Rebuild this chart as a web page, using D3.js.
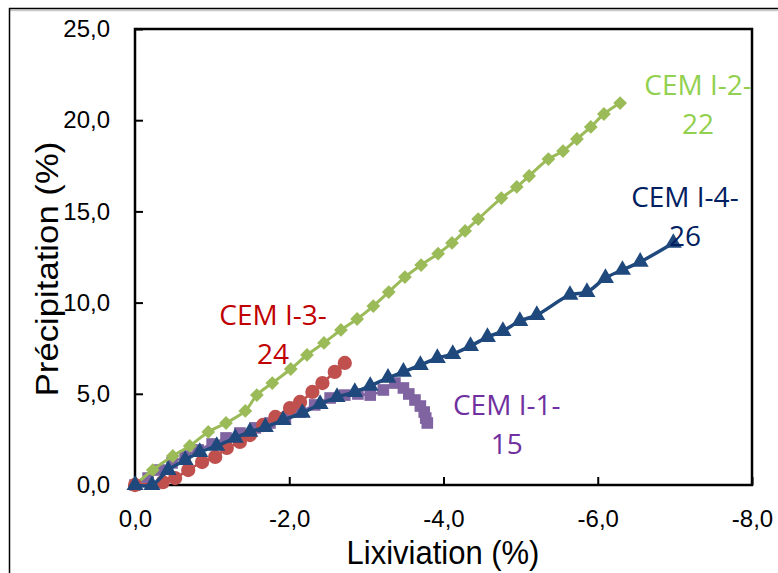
<!DOCTYPE html>
<html><head><meta charset="utf-8">
<script src="https://cdn.jsdelivr.net/npm/d3@7"></script>
<style>body{margin:0;background:#fff}svg{display:block}</style>
</head><body>
<svg id="c" width="778" height="573"></svg>
<script>
// ---- data ----
const xTicks = [0, -2, -4, -6, -8];
const yTicks = [0, 5, 10, 15, 20, 25];

const cem1x = [0,-0.17,-0.32,-0.48,-0.65,-0.82,-1.00,-1.18,-1.36,-1.56,-1.75,-1.95,-2.14,-2.33,-2.53,-2.72,-2.89,-3.05,-3.22,-3.37,-3.48,-3.55,-3.63,-3.70,-3.75,-3.77,-3.79];
const cem1y = [0,0.38,0.82,1.21,1.59,1.92,2.25,2.58,2.85,3.13,3.40,3.67,4.00,4.39,4.77,4.93,4.99,4.93,5.21,5.59,5.32,4.99,4.66,4.33,4.00,3.67,3.40];

const cem2x = [0,-0.23,-0.49,-0.71,-0.95,-1.18,-1.43,-1.58,-1.78,-2.02,-2.23,-2.45,-2.67,-2.88,-3.09,-3.29,-3.50,-3.71,-3.93,-4.11,-4.28,-4.45,-4.75,-4.95,-5.11,-5.36,-5.55,-5.73,-5.91,-6.08,-6.29];
const cem2y = [0,0.82,1.59,2.14,2.91,3.40,4.06,4.93,5.59,6.36,7.13,7.79,8.50,9.10,9.81,10.58,11.40,12.06,12.68,13.27,13.93,14.58,15.73,16.34,16.94,17.87,18.31,18.97,19.63,20.34,20.94];

const cem3x = [0,-0.36,-0.52,-0.69,-0.87,-1.04,-1.19,-1.36,-1.49,-1.66,-1.82,-2.01,-2.14,-2.30,-2.43,-2.59,-2.72];
const cem3y = [0,0.16,0.38,0.82,1.26,1.54,2.03,2.36,2.74,3.29,3.73,4.22,4.55,5.10,5.59,6.20,6.69];

const cem4x = [0,-0.22,-0.43,-0.65,-0.84,-1.06,-1.30,-1.49,-1.69,-1.92,-2.17,-2.40,-2.62,-2.85,-3.05,-3.28,-3.48,-3.70,-3.92,-4.12,-4.35,-4.57,-4.77,-4.99,-5.21,-5.64,-5.86,-6.10,-6.32,-6.55,-6.98];
const cem4y = [0,0.0,0.82,1.37,1.81,2.14,2.58,2.91,3.18,3.56,3.95,4.44,4.82,5.10,5.43,5.87,6.20,6.58,6.96,7.18,7.62,8.11,8.44,8.99,9.32,10.42,10.58,11.35,11.79,12.23,13.27];

const seriesNames = ["CEM I-1-15", "CEM I-2-22", "CEM I-3-24", "CEM I-4-26"];
const labelLines = [["CEM I-1-","15"],["CEM I-2-","22"],["CEM I-3-","24"],["CEM I-4-","26"]];
const labelAt = [[-4.82, 3.84],[-7.30, 21.4],[-1.79, 8.77],[-7.13, 15.24]];

// ---- layout ----
const svg = d3.select("#c");
const L = 135, R = 752, T = 29, B = 485;
const x = d3.scaleLinear().domain([0, -8]).range([L, R]);
const y = d3.scaleLinear().domain([0, 25]).range([B, T]);

// outer frame (document border)
svg.append("line").attr("x1",9).attr("x2",778).attr("y1",10.5).attr("y2",10.5).attr("stroke","#c8c8c8").attr("stroke-width",1.5);
svg.append("line").attr("x1",9).attr("x2",778).attr("y1",8.5).attr("y2",8.5).attr("stroke","#000").attr("stroke-width",1.5);
svg.append("line").attr("x1",9.5).attr("x2",9.5).attr("y1",8).attr("y2",573).attr("stroke","#000").attr("stroke-width",1.5);

// plot box
svg.append("rect").attr("x",L).attr("y",T).attr("width",R-L).attr("height",B-T)
  .attr("fill","none").attr("stroke","#000").attr("stroke-width",2.5);

const tickFont = "'Liberation Sans', Arial, sans-serif";
const xAxis = d3.axisBottom(x).tickValues(xTicks).tickSizeInner(-8).tickSizeOuter(0).tickPadding(25)
  .tickFormat(d => d3.format(".1f")(d).replace(".", ",").replace("−","-"));
const gx = svg.append("g").attr("transform",`translate(0,${B})`).call(xAxis);
gx.select(".domain").remove();
gx.selectAll("line").attr("stroke","#000").attr("stroke-width",2);
gx.selectAll("text").attr("font-family",tickFont).attr("font-size",24).attr("fill","#000");

const yAxis = d3.axisLeft(y).tickValues(yTicks).tickSizeInner(-8).tickSizeOuter(0).tickPadding(25)
  .tickFormat(d => d3.format(".1f")(d).replace(".", ","));
const gy = svg.append("g").attr("transform",`translate(${L},0)`).call(yAxis);
gy.select(".domain").remove();
gy.selectAll("line").attr("stroke","#000").attr("stroke-width",2);
gy.selectAll("text").attr("font-family",tickFont).attr("font-size",24).attr("fill","#000");

// axis titles
svg.append("text").attr("transform","translate(443,564) scale(1,1.08)").attr("text-anchor","middle")
  .attr("font-family",tickFont).attr("font-size",31).text("Lixiviation (%)");
svg.append("text").attr("transform","translate(58,269) rotate(-90) scale(1.12,1)").attr("text-anchor","middle")
  .attr("font-family",tickFont).attr("font-size",31).text("Précipitation (%)");

// series
const mk = (xs, ys) => xs.map((v,i)=>({x:v,y:ys[i]}));
const data = [mk(cem1x,cem1y), mk(cem2x,cem2y), mk(cem3x,cem3y), mk(cem4x,cem4y)];
const colors = ["#8064A2","#9BBB59","#C0504D","#1F497D"];
const labelColors = ["#7030A0","#92D050","#C00000","#002060"];
const lineW = [2.5, 3, 2.5, 3.5];
const line = d3.line().x(d=>x(d.x)).y(d=>y(d.y)).curve(d3.curveCatmullRom.alpha(0.5));

const symbols = [
  d3.symbol().type(d3.symbolSquare).size(135),
  d3.symbol().type(d3.symbolSquare).size(95),
  d3.symbol().type(d3.symbolCircle).size(160),
  d3.symbol().type(d3.symbolTriangle).size(125)
];
const rot = [0, 45, 0, 0];

data.forEach((s, i) => {
  const g = svg.append("g");
  g.append("path").datum(s).attr("d", line).attr("fill","none")
    .attr("stroke", colors[i]).attr("stroke-width", lineW[i]).attr("stroke-linejoin","round");
  g.selectAll("path.m").data(s).join("path").attr("class","m")
    .attr("d", symbols[i])
    .attr("transform", d => `translate(${x(d.x)},${y(d.y)}) rotate(${rot[i]})`)
    .attr("fill", colors[i]);
});

// data labels
const labFont = "'Open Sans', 'Noto Sans', sans-serif";
labelLines.forEach((lines, i) => {
  const t = svg.append("text").attr("text-anchor","middle")
    .attr("font-family",labFont).attr("font-size",28).attr("fill",labelColors[i]);
  lines.forEach((ln, j) => {
    t.append("tspan").attr("x", x(labelAt[i][0])).attr("y", y(labelAt[i][1]) + j*39).text(ln);
  });
});
</script>
</body></html>
